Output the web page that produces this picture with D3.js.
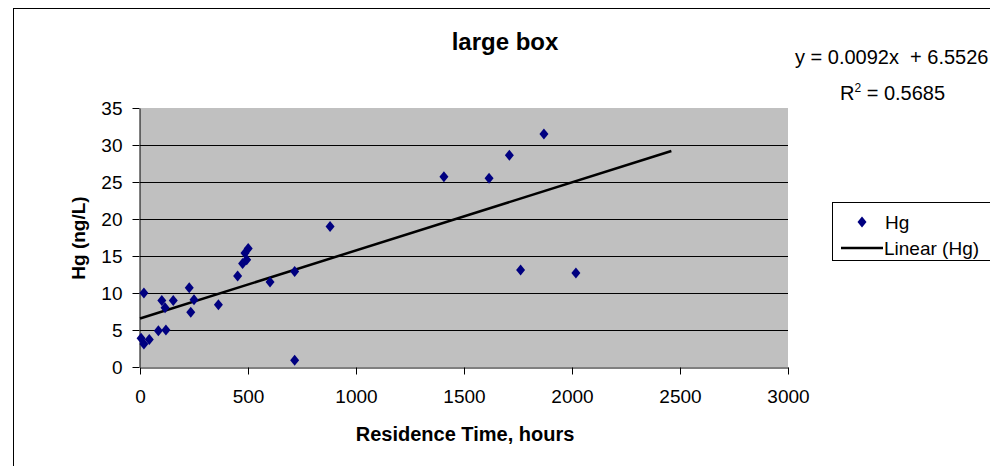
<!DOCTYPE html>
<html>
<head>
<meta charset="utf-8">
<script src="https://cdn.jsdelivr.net/npm/d3@7"></script>
<style>
  body { margin: 0; background: #fff; }
  text { font-family: "Liberation Sans", Arial, sans-serif; fill: #000; }
</style>
</head>
<body>
<div class="container"></div>
<script>
// values
const residenceTime = [5, 18, 18, 43, 85, 101, 116, 120, 154, 228, 235, 250, 363, 452, 475, 486, 494, 501, 602, 716, 716, 880, 1407, 1616, 1710, 1762, 1870, 2018];
const hg = [3.9, 3.1, 10.0, 3.7, 4.9, 9.0, 8.0, 5.0, 9.0, 10.7, 7.4, 9.1, 8.4, 12.3, 14.0, 15.4, 14.5, 16.0, 11.5, 12.9, 0.9, 19.0, 25.7, 25.5, 28.6, 13.1, 31.5, 12.7];
const xTicks = [0, 500, 1000, 1500, 2000, 2500, 3000];
const yTicks = [0, 5, 10, 15, 20, 25, 30, 35];
const slope = 0.0092, intercept = 6.5526, rSquared = 0.5685;
const trendRange = [0, 2460];

const w = 990, h = 466;
const svg = d3.select(".container").append("svg")
  .attr("width", w).attr("height", h);

// chart frame (runs off the right and bottom edges)
svg.append("rect")
  .attr("x", 13.5).attr("y", 8.5)
  .attr("width", 1000).attr("height", 500)
  .attr("fill", "#fff").attr("stroke", "#000");

const xScale = d3.scaleLinear().domain([0, 3000]).range([140, 788]);
const yScale = d3.scaleLinear().domain([0, 35]).range([367, 108]);

// plot area
svg.append("rect")
  .attr("x", xScale(0)).attr("y", yScale(35))
  .attr("width", xScale(3000) - xScale(0))
  .attr("height", yScale(0) - yScale(35))
  .attr("fill", "#c0c0c0");

// gridlines
svg.selectAll(".grid")
  .data(yTicks.filter(d => d > 0 && d < 35))
  .enter().append("line")
  .attr("class", "grid")
  .attr("x1", xScale(0)).attr("x2", xScale(3000))
  .attr("y1", d => Math.round(yScale(d)) + 0.5)
  .attr("y2", d => Math.round(yScale(d)) + 0.5)
  .attr("stroke", "#000");

const xAxis = d3.axisBottom(xScale).tickValues(xTicks).tickFormat(d3.format("d"))
  .tickSizeInner(7).tickSizeOuter(0).tickPadding(15);
const yAxis = d3.axisLeft(yScale).tickValues(yTicks).tickFormat(d3.format("d"))
  .tickSizeInner(7).tickSizeOuter(0).tickPadding(10);

const gx = svg.append("g")
  .attr("transform", "translate(0," + (Math.round(yScale(0)) + 0.5) + ")")
  .call(xAxis);
const gy = svg.append("g")
  .attr("transform", "translate(" + (xScale(0) - 0.5) + ",0)")
  .call(yAxis);

[gx, gy].forEach(g => {
  g.select(".domain").attr("stroke", "#000");
  g.selectAll(".tick line").attr("stroke", "#000");
  g.selectAll(".tick text")
    .attr("font-size", 19)
    .attr("font-family", "\"Liberation Sans\", Arial, sans-serif")
    .attr("fill", "#000");
});

// trendline
svg.append("line")
  .attr("x1", xScale(trendRange[0])).attr("y1", yScale(intercept + slope * trendRange[0]))
  .attr("x2", xScale(trendRange[1])).attr("y2", yScale(intercept + slope * trendRange[1]))
  .attr("stroke", "#000").attr("stroke-width", 2.5);

// points
const diamond = "M0,-5.5L4.5,0L0,5.5L-4.5,0Z";
svg.selectAll(".pt")
  .data(d3.range(residenceTime.length))
  .enter().append("path")
  .attr("class", "pt")
  .attr("d", diamond)
  .attr("transform", i => "translate(" + xScale(residenceTime[i]) + "," + yScale(hg[i]) + ")")
  .attr("fill", "#000080");

// titles
svg.append("text")
  .attr("x", 505).attr("y", 50)
  .attr("text-anchor", "middle")
  .attr("font-size", 24).attr("font-weight", "bold")
  .text("large box");

svg.append("text")
  .attr("x", 465).attr("y", 441)
  .attr("text-anchor", "middle")
  .attr("font-size", 20).attr("font-weight", "bold")
  .text("Residence Time, hours");

svg.append("text")
  .attr("transform", "translate(85,238) rotate(-90)")
  .attr("text-anchor", "middle")
  .attr("font-size", 19).attr("font-weight", "bold")
  .text("Hg (ng/L)");

// equation
svg.append("text")
  .attr("x", 795).attr("y", 64)
  .attr("font-size", 20)
  .style("white-space", "pre")
  .text("y = " + slope.toFixed(4) + "x  + " + intercept.toFixed(4));

const r2 = svg.append("text")
  .attr("x", 840).attr("y", 100)
  .attr("font-size", 20);
r2.append("tspan").text("R");
r2.append("tspan").attr("font-size", 12).attr("dy", -8).text("2");
r2.append("tspan").attr("dy", 8).text(" = " + rSquared.toFixed(4));

// legend
const legend = svg.append("g");
legend.append("rect")
  .attr("x", 832.5).attr("y", 202.5)
  .attr("width", 200).attr("height", 58)
  .attr("fill", "#fff").attr("stroke", "#000");
legend.append("path")
  .attr("d", diamond)
  .attr("transform", "translate(862,222)")
  .attr("fill", "#000080");
legend.append("text")
  .attr("x", 885).attr("y", 229)
  .attr("font-size", 19)
  .text("Hg");
legend.append("line")
  .attr("x1", 841).attr("x2", 883)
  .attr("y1", 248).attr("y2", 248)
  .attr("stroke", "#000").attr("stroke-width", 2.5);
legend.append("text")
  .attr("x", 884).attr("y", 255)
  .attr("font-size", 19)
  .text("Linear (Hg)");
</script>
</body>
</html>
